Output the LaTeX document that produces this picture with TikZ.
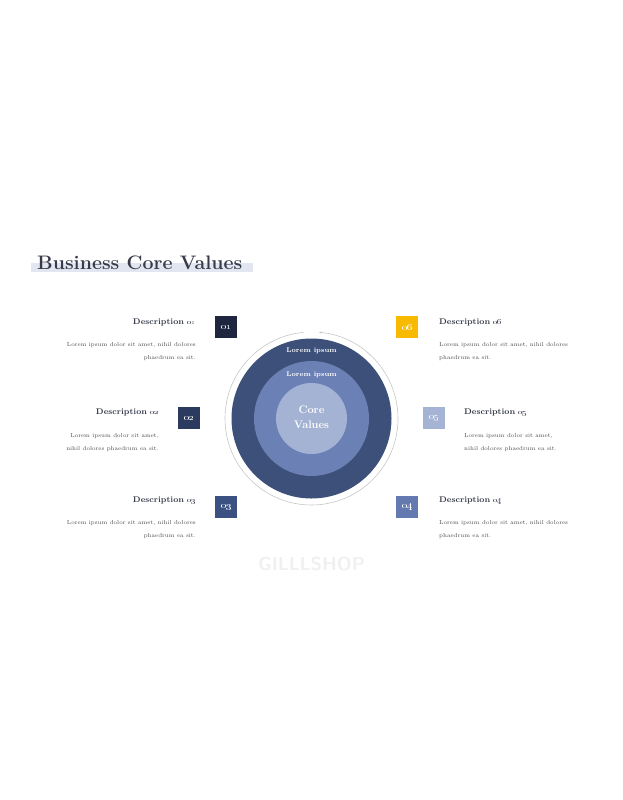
\documentclass[tikz,border=0pt]{standalone}
\usetikzlibrary{arrows.meta}
\definecolor{cA}{HTML}{1E2640}
\definecolor{cB}{HTML}{2B3A5E}
\definecolor{cC}{HTML}{3A5182}
\definecolor{cD}{HTML}{6379AF}
\definecolor{cE}{HTML}{A5B4D4}
\definecolor{cF}{HTML}{F7BA00}
\definecolor{ringA}{HTML}{3C5079}
\definecolor{ringB}{HTML}{6B80B4}
\definecolor{ringC}{HTML}{A4B3D3}
\definecolor{titlebar}{HTML}{E1E6F1}
\definecolor{titletext}{HTML}{363A4A}
\definecolor{bodytext}{HTML}{4A4A4A}
\definecolor{thinring}{HTML}{C6C6C6}
\definecolor{wm}{HTML}{F0F0F0}
\tikzset{
  numbox/.style={minimum size=22bp, inner sep=0pt, text=white, font=\fontsize{10}{12}\selectfont},
  desctitle/.style={inner sep=0pt, text=titletext, font=\fontsize{8.3}{10}\selectfont\bfseries},
  descbody/.style={inner sep=0pt, text=bodytext, font=\fontsize{5.8}{8}\selectfont},
  ringlabel/.style={text=white, inner sep=0pt, font=\fontsize{6.8}{8}\selectfont\bfseries}
}
\begin{document}
\begin{tikzpicture}[x=1bp,y=-1bp]
\useasboundingbox (0,0) rectangle (623,800);
% title
\fill[titlebar] (31,263) rectangle (253,271.5);
\node[anchor=base west, inner sep=0pt, text=titletext, font=\fontsize{19.6}{22}\selectfont\bfseries] (title) at (37,269.5) {Business Core Values};
% thin ring with arrow
\draw[thinring, line width=0.6pt, -{Stealth[length=2.5bp,width=2.2bp]}] (311.5,418.5) ++(264.5:86.5) arc[start angle=264.5, end angle=-85, radius=86.5];
% circles
\node[circle, fill=ringA, minimum size=160bp, inner sep=0pt] (outer) at (311.5,418.5) {};
\node[circle, fill=ringB, minimum size=115bp, inner sep=0pt] (mid) at (311.5,418.5) {};
\node[circle, fill=ringC, minimum size=71bp, inner sep=0pt] (core) at (311.5,418.5) {};
\node[ringlabel] (lblA) at (311.5,351) {Lorem ipsum};
\node[ringlabel] (lblB) at (311.5,374.5) {Lorem ipsum};
\node[text=white, inner sep=0pt, align=center, font=\fontsize{11}{15}\selectfont\bfseries] (corelbl) at (311.5,417.5) {Core\\Values};
% number boxes
\node[numbox, fill=cA] (n1) at (226,327) {\oldstylenums{01}};
\node[numbox, fill=cB] (n2) at (189,418) {\oldstylenums{02}};
\node[numbox, fill=cC] (n3) at (226,507) {\oldstylenums{03}};
\node[numbox, fill=cD] (n4) at (407,507) {\oldstylenums{04}};
\node[numbox, fill=cE] (n5) at (434,418) {\oldstylenums{05}};
\node[numbox, fill=cF] (n6) at (407,327) {\oldstylenums{06}};
% left descriptions
\node[desctitle, anchor=base east] (d1) at (196,324.5) {Description \oldstylenums{01}};
\node[descbody, anchor=base east] (d1a) at (196,346.5) {Lorem ipsum dolor sit amet, nihil dolores};
\node[descbody, anchor=base east] (d1b) at (196,359.5) {phaedrum ea sit.};
\node[desctitle, anchor=base east] (d2) at (159,414.5) {Description \oldstylenums{02}};
\node[descbody, anchor=base east] (d2a) at (159,437.5) {Lorem ipsum dolor sit amet,};
\node[descbody, anchor=base east] (d2b) at (159,450.5) {nihil dolores phaedrum ea sit.};
\node[desctitle, anchor=base east] (d3) at (196,502.5) {Description \oldstylenums{03}};
\node[descbody, anchor=base east] (d3a) at (196,524.5) {Lorem ipsum dolor sit amet, nihil dolores};
\node[descbody, anchor=base east] (d3b) at (196,537.5) {phaedrum ea sit.};
% right descriptions
\node[desctitle, anchor=base west] (d6) at (439,324.5) {Description \oldstylenums{06}};
\node[descbody, anchor=base west] (d6a) at (439,346.5) {Lorem ipsum dolor sit amet, nihil dolores};
\node[descbody, anchor=base west] (d6b) at (439,359.5) {phaedrum ea sit.};
\node[desctitle, anchor=base west] (d5) at (464,414.5) {Description \oldstylenums{05}};
\node[descbody, anchor=base west] (d5a) at (464,437.5) {Lorem ipsum dolor sit amet,};
\node[descbody, anchor=base west] (d5b) at (464,450.5) {nihil dolores phaedrum ea sit.};
\node[desctitle, anchor=base west] (d4) at (439,502.5) {Description \oldstylenums{04}};
\node[descbody, anchor=base west] (d4a) at (439,524.5) {Lorem ipsum dolor sit amet, nihil dolores};
\node[descbody, anchor=base west] (d4b) at (439,537.5) {phaedrum ea sit.};
% watermark
\node[text=wm, inner sep=0pt, font=\fontsize{18.8}{20}\sffamily\bfseries\selectfont] (wmark) at (311.5,564) {GILLLSHOP};
\end{tikzpicture}
\end{document}
